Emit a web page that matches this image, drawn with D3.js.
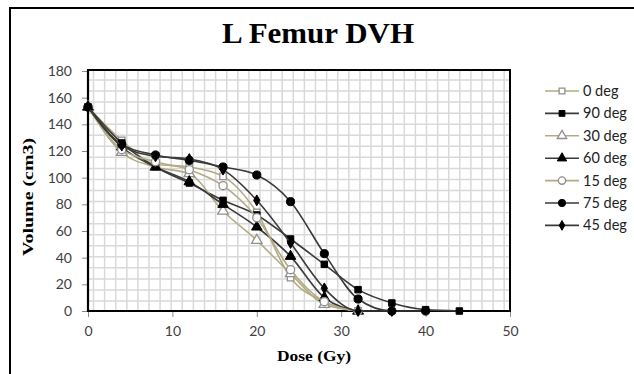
<!DOCTYPE html>
<html><head><meta charset="utf-8">
<script src="https://cdn.jsdelivr.net/npm/d3@7"></script>
<style>html,body{margin:0;padding:0;background:#fff;}svg{display:block;}</style>
</head><body>
<script>
// ---- data ----
const dose = [0, 4, 8, 12, 16, 20, 24, 28, 32, 36, 40, 44];
const seriesNames = ["0 deg", "90 deg", "30 deg", "60 deg", "15 deg", "75 deg", "45 deg"];
const deg0  = [153, 128, 110, 108, 101, 74, 25, 7, 0];
const deg90 = [153, 126, 108, 96, 83, 72, 54, 35, 16, 6, 1, 0];
const deg30 = [153, 119, 108, 103, 75, 53, 28, 5, 0];
const deg60 = [153, 123, 108, 97, 80, 63, 41, 10, 0];
const deg15 = [153, 121, 112, 106, 94, 70, 31, 7, 0];
const deg75 = [153, 125, 117, 113, 108, 102, 82, 43, 9, 0, 0];
const deg45 = [153, 124, 116, 114, 106, 83, 51, 17, 0, 0];
const xTicks = [0, 10, 20, 30, 40, 50];
const yTicks = [0, 20, 40, 60, 80, 100, 120, 140, 160, 180];

const values = [deg0, deg90, deg30, deg60, deg15, deg75, deg45];
const markers = ["squareOpen", "square", "triangleOpen", "triangle", "circleOpen", "circle", "diamond"];

const W = 634, H = 374;
const svg = d3.select("body").append("svg").attr("width", W).attr("height", H);
svg.append("rect").attr("x", 0).attr("y", 0).attr("width", W).attr("height", H).attr("fill", "#fff");
// outer chart border
svg.append("rect").attr("x", 10).attr("y", 8).attr("width", 660).attr("height", 400)
  .attr("fill", "none").attr("stroke", "#000").attr("stroke-width", 2);

const L = 88, R = 510, T = 71, B = 311;
const x = d3.scaleLinear().domain([0, 50]).range([L, R]);
const y = d3.scaleLinear().domain([0, 180]).range([B, T]);

// grid pattern (plot area fill)
const g = svg.append("g");
const gx = d3.range(93.5, R, 11.1), gy = d3.range(80, B, 11.05);
g.selectAll(".vg").data(gx).join("line").attr("x1", d => d).attr("x2", d => d)
  .attr("y1", T).attr("y2", B).attr("stroke", "#d9d9d9").attr("stroke-width", 1.5);
g.selectAll(".hg").data(gy).join("line").attr("y1", d => d).attr("y2", d => d)
  .attr("x1", L).attr("x2", R).attr("stroke", "#d9d9d9").attr("stroke-width", 1.5);

// plot border
svg.append("rect").attr("x", L).attr("y", T - 1).attr("width", R - L).attr("height", B - T + 1)
  .attr("fill", "none").attr("stroke", "#000").attr("stroke-width", 2);

// axes
const font = "Lato, 'Open Sans', sans-serif";
const ya = svg.append("g").attr("transform", `translate(${L},0)`)
  .call(d3.axisLeft(y).tickValues(yTicks).tickSize(6).tickPadding(10));
const xa = svg.append("g").attr("transform", `translate(0,${B})`)
  .call(d3.axisBottom(x).tickValues(xTicks).tickSize(6).tickPadding(9));
[ya, xa].forEach(a => {
  a.select(".domain").remove();
  a.selectAll("line").attr("stroke", "#8c8c8c").attr("stroke-width", 1);
  a.selectAll("text").attr("font-family", font).attr("font-size", 14).attr("fill", "#404040");
});
// axis lines
svg.append("line").attr("x1", L).attr("x2", L).attr("y1", T - 1).attr("y2", B + 1).attr("stroke", "#000").attr("stroke-width", 2.2);
svg.append("line").attr("x1", L - 1).attr("x2", R + 1).attr("y1", B).attr("y2", B).attr("stroke", "#000").attr("stroke-width", 2.2);

// titles
svg.append("text").attr("x", 318).attr("y", 43).attr("text-anchor", "middle")
  .attr("font-family", "'Liberation Serif', serif").attr("font-weight", "bold").attr("font-size", 29)
  .attr("textLength", 192).attr("lengthAdjust", "spacingAndGlyphs").text("L Femur DVH");
svg.append("text").attr("x", 314).attr("y", 361).attr("text-anchor", "middle")
  .attr("font-family", "'Liberation Serif', serif").attr("font-weight", "bold").attr("font-size", 15)
  .attr("textLength", 74).attr("lengthAdjust", "spacingAndGlyphs").text("Dose (Gy)");
svg.append("text").attr("transform", "translate(33,197) rotate(-90)").attr("text-anchor", "middle")
  .attr("font-family", "'Liberation Serif', serif").attr("font-weight", "bold").attr("font-size", 15)
  .attr("textLength", 118).attr("lengthAdjust", "spacingAndGlyphs").text("Volume (cm3)");

const light = i => [0, 2, 4].includes(i);
const lineColor = i => light(i) ? "#b3ab85" : "#3a3a3a";

function drawMarker(sel, type, cx, cy, scale) {
  const s = scale || 1;
  const open = type.endsWith("Open");
  const base = open ? type.replace("Open", "") : type;
  const sym = { square: d3.symbolSquare, triangle: d3.symbolTriangle, circle: d3.symbolCircle, diamond: d3.symbolDiamond }[base];
  const size = { square: 42, triangle: 48, circle: 52, diamond: 34 }[base] * s;
  sel.append("path").attr("d", d3.symbol().type(sym).size(size)())
    .attr("transform", `translate(${cx},${cy})`)
    .attr("fill", open ? "#fff" : "#000")
    .attr("stroke", open ? "#8f8f8f" : "#000").attr("stroke-width", open ? 1.3 : 1);
}

const line = d3.line().x(d => x(d[0])).y(d => y(d[1])).curve(d3.curveMonotoneX);
values.forEach((vals, i) => {
  const pts = vals.map((v, j) => [dose[j], v]);
  const sg = svg.append("g");
  sg.append("path").attr("d", line(pts)).attr("fill", "none")
    .attr("stroke", lineColor(i)).attr("stroke-width", 1.6);
  pts.forEach(p => drawMarker(sg, markers[i], x(p[0]), y(p[1])));
});

// legend
const lg = svg.append("g");
seriesNames.forEach((n, i) => {
  const yy = 91 + i * 22.4;
  lg.append("line").attr("x1", 545).attr("x2", 579).attr("y1", yy).attr("y2", yy)
    .attr("stroke", lineColor(i)).attr("stroke-width", 1.6);
  drawMarker(lg, markers[i], 562, yy, 0.8);
  lg.append("text").attr("x", 583).attr("y", yy + 5).attr("font-family", font)
    .attr("font-size", 14.5).attr("fill", "#222").text(n);
});
</script>
</body></html>
